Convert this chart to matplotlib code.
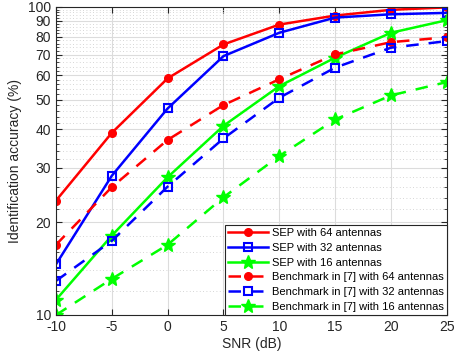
import numpy as np
import matplotlib
matplotlib.use("Agg")
import matplotlib.pyplot as plt
from matplotlib.ticker import FixedLocator, NullFormatter

snr = [-10, -5, 0, 5, 10, 15, 20, 25]

sep_64 = [23.5, 39.0, 58.6, 75.5, 87.6, 93.7, 97.8, 99.6]
sep_32 = [14.6, 28.3, 46.8, 69.2, 82.4, 92.3, 94.6, 95.6]
sep_16 = [11.2, 18.1, 28.0, 41.1, 55.3, 68.4, 82.4, 90.5]
bench_64 = [16.9, 26.0, 37.0, 48.0, 58.2, 70.1, 76.8, 79.7]
bench_32 = [12.9, 17.4, 26.1, 37.4, 50.7, 63.5, 73.7, 77.4]
bench_16 = [10.0, 13.1, 16.9, 24.1, 32.8, 43.1, 51.6, 57.0]

y_ticks = [10, 20, 30, 40, 50, 60, 70, 80, 90, 100]

plt.rcParams["font.family"] = ["Liberation Sans", "DejaVu Sans"]

fig = plt.figure(figsize=(4.55, 3.55), dpi=100)
ax = fig.add_axes([0.123, 0.1127, 0.859, 0.868])

ax.plot(snr, sep_64, "r-", marker="o", ms=5.5, lw=1.8, label="SEP with 64 antennas")
ax.plot(snr, sep_32, "b-", marker="s", ms=5.5, mfc="none", mew=1.5, lw=1.8,
        label="SEP with 32 antennas")
ax.plot(snr, sep_16, "-", color="#00ff00", marker="*", ms=10, lw=1.8,
        label="SEP with 16 antennas")
ax.plot(snr, bench_64, "r--", marker="o", ms=5.5, lw=1.8, dashes=(5, 4),
        label="Benchmark in [7] with 64 antennas")
ax.plot(snr, bench_32, "b--", marker="s", ms=5.5, mfc="none", mew=1.5, lw=1.8,
        dashes=(5, 4), label="Benchmark in [7] with 32 antennas")
ax.plot(snr, bench_16, "--", color="#00ff00", marker="*", ms=10, lw=1.8,
        dashes=(5, 4), label="Benchmark in [7] with 16 antennas")

ax.set_yscale("log")
ax.set_xlim(-10, 25)
ax.set_ylim(10, 100)
ax.set_xticks(snr)
ax.set_xticklabels([str(s) for s in snr])
ax.yaxis.set_major_locator(FixedLocator(y_ticks))
ax.set_yticklabels([str(t) for t in y_ticks])
minor = [v for v in range(12, 100, 2) if v not in y_ticks]
ax.yaxis.set_minor_locator(FixedLocator(minor))
ax.yaxis.set_minor_formatter(NullFormatter())

ax.grid(True, which="major", color="#dcdcdc", lw=0.8)
ax.grid(True, which="minor", axis="y", color="#c8c8c8", lw=0.6, ls=(0, (1, 3)))
ax.set_axisbelow(True)

ax.tick_params(which="both", direction="in", top=True, right=True,
               labelsize=10, colors="#262626")
ax.tick_params(which="major", length=4)
ax.tick_params(which="minor", length=2)
for s in ax.spines.values():
    s.set_color("#262626")
    s.set_linewidth(0.8)

ax.set_xlabel("SNR (dB)", fontsize=10, color="#262626", labelpad=2)
ax.set_ylabel("Identification accuracy (%)", fontsize=10, color="#262626",
              labelpad=4)

leg = ax.legend(loc="lower right", fontsize=8, fancybox=False, framealpha=1,
                edgecolor="#262626", borderpad=0.3, labelspacing=0.42,
                handlelength=3.6, handletextpad=0.3, borderaxespad=0.0)
leg.get_frame().set_linewidth(0.8)

fig.savefig("out.png", dpi=100)
